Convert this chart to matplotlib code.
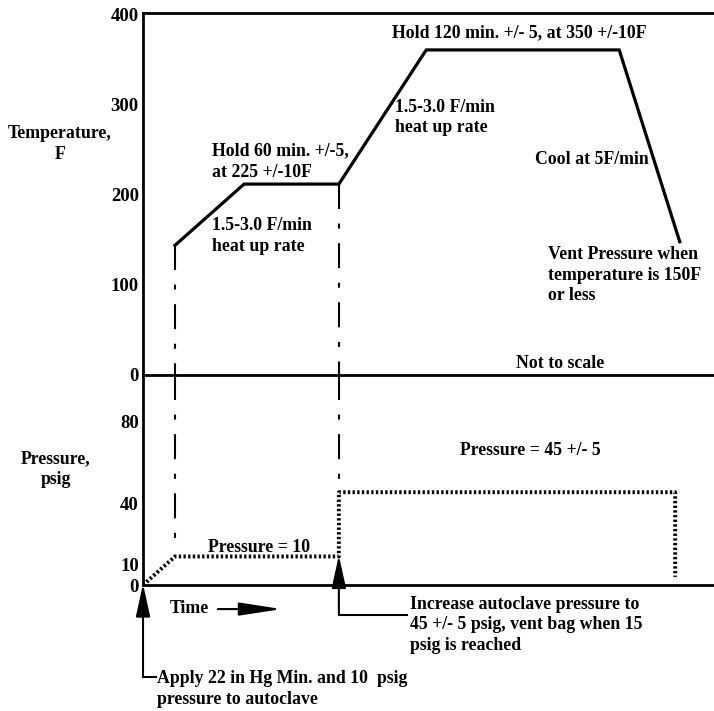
import matplotlib.pyplot as plt

# time is not to scale, arbitrary units 0..100 across the axis
temp_time = [5.6, 17.7, 34.3, 49.6, 83.4, 94.0]
temp_vals = [144, 212, 212, 361, 361, 148]

press_time = [0, 5.6, 34.3, 34.3, 93.2, 93.2]
press_vals = [0, 14, 14, 45.5, 45.5, 4]

temp_ticks = [0, 100, 200, 300, 400]
press_ticks = [0, 10, 40, 80]

plt.rcParams['font.family'] = 'Liberation Serif'
plt.rcParams['font.weight'] = 'bold'
fs = 12.8

fig = plt.figure(figsize=(7.14, 7.11), dpi=100)
ax1 = fig.add_axes([0.2003, 0.4726, 0.7997, 0.5091])
ax2 = fig.add_axes([0.2003, 0.1772, 0.7997, 0.2954])

for ax in (ax1, ax2):
    ax.set_xlim(0, 100)
    ax.patch.set_visible(False)
    ax.spines['right'].set_visible(False)
    ax.spines['left'].set_linewidth(2)
    ax.spines['bottom'].set_linewidth(2)
    ax.set_xticks([])
    ax.tick_params(axis='y', length=0, pad=3, labelsize=13.5)
    for lbl in ax.get_yticklabels():
        lbl.set_fontweight('bold')

ax1.spines['top'].set_linewidth(2)
ax2.spines['top'].set_visible(False)
ax1.set_ylim(0, 402)
ax2.set_ylim(0, 103)
ax1.set_yticks(temp_ticks)
ax2.set_yticks(press_ticks)

dashdot = (0, (12, 7, 2.4, 7))

# temperature profile
ax1.plot(temp_time, temp_vals, color='black', lw=2.3, solid_joinstyle='miter')
ax1.plot([temp_time[0], temp_time[0]], [temp_vals[0], 0], color='black', lw=1.5, linestyle=dashdot)
ax1.plot([temp_time[2], temp_time[2]], [temp_vals[2], 0], color='black', lw=1.5, linestyle=dashdot)

# pressure profile
ax2.plot(press_time, press_vals, color='black', lw=2.8, linestyle=(0, (0.6, 0.6)))
ax2.plot([press_time[1], press_time[1]], [103, press_vals[1] + 2], color='black', lw=1.5, linestyle=dashdot)
ax2.plot([press_time[2], press_time[2]], [103, press_vals[3]], color='black', lw=1.5, linestyle=dashdot)

arrow = dict(arrowstyle='-|>,head_length=1.0,head_width=0.22', lw=1.5, color='black',
             mutation_scale=20, shrinkA=0, shrinkB=0)
ax2.annotate('', xy=(0, 0.5), xytext=(0, -45), arrowprops=arrow, annotation_clip=False)
ax2.plot([0, 2.2], [-45, -45], color='black', lw=1.5, clip_on=False)
ax2.annotate('', xy=(34.3, 14.5), xytext=(34.3, -14.7), arrowprops=arrow, annotation_clip=False)
ax2.plot([34.3, 46.3], [-14.7, -14.7], color='black', lw=1.5, clip_on=False)
ax2.annotate('', xy=(24.3, -11.8), xytext=(13.1, -11.8),
             arrowprops=dict(arrowstyle='-|>,head_length=1.3,head_width=0.2', lw=1.5,
                             color='black', mutation_scale=20, shrinkA=0, shrinkB=0),
             annotation_clip=False)

tk = dict(fontsize=fs, fontweight='bold', linespacing=1.3)
ax1.text(12.1, 237, 'Hold 60 min. +/-5,\nat 225 +/-10F', va='center', **tk)
ax1.text(12.1, 154, '1.5-3.0 F/min\nheat up rate', va='center', **tk)
ax1.text(43.6, 380, 'Hold 120 min. +/- 5, at 350 +/-10F', va='center', **tk)
ax1.text(44.1, 286, '1.5-3.0 F/min\nheat up rate', va='center', **tk)
ax1.text(68.7, 239, 'Cool at 5F/min', va='center', **tk)
ax1.text(70.9, 111, 'Vent Pressure when\ntemperature is 150F\nor less', va='center', **tk)
ax1.text(73.0, 13, 'Not to scale', va='center', ha='center', **tk)

ax2.text(11.4, 18.6, 'Pressure = 10', va='center', **tk)
ax2.text(67.8, 66, 'Pressure = 45 +/- 5', va='center', ha='center', **tk)
ax2.text(46.8, -19.6, 'Increase autoclave pressure to\n45 +/- 5 psig, vent bag when 15\npsig is reached',
         va='center', clip_on=False, **tk)
ax2.text(2.5, -51.2, 'Apply 22 in Hg Min. and 10  psig\npressure to autoclave',
         va='center', clip_on=False, **tk)
ax2.text(4.7, -11.3, 'Time', va='center', clip_on=False, **tk)

fig.text(0.084, 0.797, 'Temperature,\nF', ha='center', va='center', **tk)
fig.text(0.078, 0.340, 'Pressure,\npsig', ha='center', va='center', **tk)

fig.savefig('out.png', dpi=100)
